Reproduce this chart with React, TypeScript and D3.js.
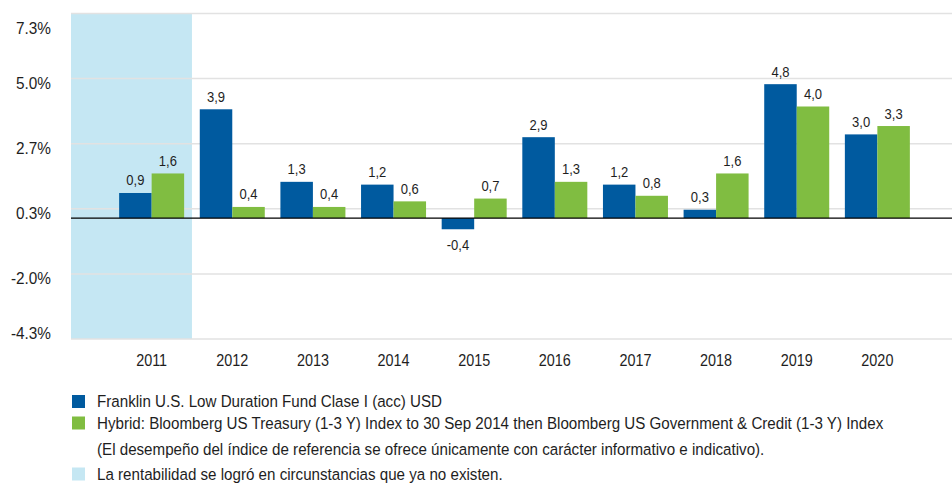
import React from 'react';
import * as d3 from 'd3';

const years = ['2011', '2012', '2013', '2014', '2015', '2016', '2017', '2018', '2019', '2020'];
const fundValues = [0.9, 3.9, 1.3, 1.2, -0.4, 2.9, 1.2, 0.3, 4.8, 3.0];
const indexValues = [1.6, 0.4, 0.4, 0.6, 0.7, 1.3, 0.8, 1.6, 4.0, 3.3];
const yTicks = [-4.333, -2.0, 0.333, 2.667, 5.0, 7.333];
const yTickLabels = ['-4.3%', '-2.0%', '0.3%', '2.7%', '5.0%', '7.3%'];
const shadedYears = ['2011'];

const legendItems = [
  { label: 'Franklin U.S. Low Duration Fund Clase I (acc) USD', color: '#005a9f' },
  { label: 'Hybrid: Bloomberg US Treasury (1-3 Y) Index to 30 Sep 2014 then Bloomberg US Government & Credit (1-3 Y) Index', color: '#80bd41' },
  { label: '(El desempeño del índice de referencia se ofrece únicamente con carácter informativo e indicativo).', color: null },
  { label: 'La rentabilidad se logró en circunstancias que ya no existen.', color: '#c5e7f3' }
];

const W = 952;
const H = 483;
const FONT = '"Liberation Sans", Arial, sans-serif';
const BLUE = '#005a9f';
const GREEN = '#80bd41';
const SHADE = '#c5e7f3';
const INK = '#1e1e1e';

const fmt = (v: number) => v.toFixed(1).replace('.', ',');

// text squeezed horizontally, like the narrow face in the original
const Txt = ({ x, y, size, sx = 1, anchor = 'start', children }: any) => (
  <text
    transform={`translate(${x},${y}) scale(${sx},1)`}
    textAnchor={anchor}
    fontSize={size}
    fill={INK}
  >
    {children}
  </text>
);

export default function App() {
  const plotLeft = 71;
  const plotRight = 958;
  const x = d3.scaleBand<string>()
    .domain(years)
    .range([plotLeft, plotRight])
    .paddingInner(0)
    .paddingOuter(0.5);

  const y = d3.scaleLinear()
    .domain([-4.333, 7.333])
    .range([339, 13.5]);

  const barW = 32.5;
  const step = x.step();
  const legendRows = [401.5, 423, 449.5, 474];

  return (
    <svg width={W} height={H} style={{ position: 'absolute', left: 0, top: 0 }} fontFamily={FONT}>
      <rect width={W} height={H} fill="#fff" />

      {/* past-circumstances shading */}
      {shadedYears.map(yr => (
        <rect
          key={yr}
          x={plotLeft}
          y={y(7.333)}
          width={(x(yr) as number) + step - plotLeft}
          height={y(-4.333) - y(7.333)}
          fill={SHADE}
        />
      ))}

      {/* grid + y labels */}
      {yTicks.map((t, i) => {
        const ly = Math.min(339, Math.max(33.5, y(t) + 10));
        return (
          <g key={t}>
            <line x1={plotLeft} x2={W} y1={y(t)} y2={y(t)} stroke="#e2e2e2" strokeWidth={1.5} />
            <Txt x={51} y={ly} size={16.7} sx={0.92} anchor="end">{yTickLabels[i]}</Txt>
          </g>
        );
      })}

      {/* bars */}
      {years.map((yr, i) => {
        const cx = (x(yr) as number) + step / 2;
        const series = [
          { v: fundValues[i], color: BLUE, x0: cx - barW },
          { v: indexValues[i], color: GREEN, x0: cx }
        ];
        return (
          <g key={yr}>
            {series.map((s, j) => {
              const top = y(Math.max(0, s.v));
              const bottom = y(Math.min(0, s.v));
              const ly = s.v >= 0 ? top - 7.5 : bottom + 21;
              return (
                <g key={j}>
                  <rect x={s.x0} y={top} width={barW} height={bottom - top} fill={s.color} />
                  <Txt x={s.x0 + barW / 2} y={ly} size={14} sx={0.93} anchor="middle">{fmt(s.v)}</Txt>
                </g>
              );
            })}
            <Txt x={cx} y={366} size={16} sx={0.9} anchor="middle">{yr}</Txt>
          </g>
        );
      })}

      {/* zero line */}
      <line x1={plotLeft} x2={W} y1={y(0)} y2={y(0)} stroke="#000" strokeWidth={1.2} />

      {/* legend */}
      {legendItems.map((item, i) => {
        const ly = legendRows[i];
        return (
          <g key={i}>
            {item.color && <rect x={72} y={ly - 6.5} width={13} height={13} fill={item.color} />}
            <Txt x={97} y={ly + 5.5} size={16.3} sx={0.93}>{item.label}</Txt>
          </g>
        );
      })}
    </svg>
  );
}
